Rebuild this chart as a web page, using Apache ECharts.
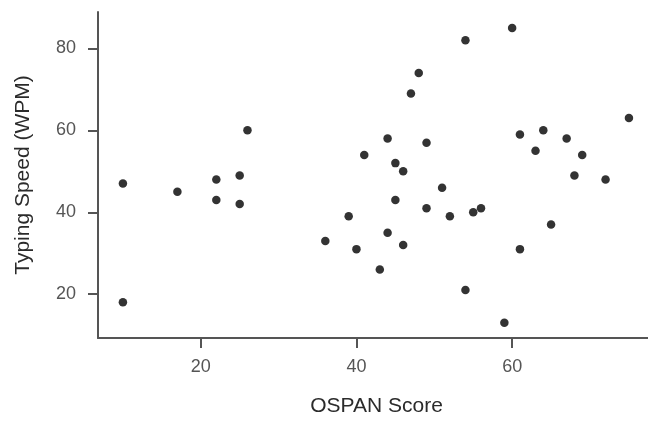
<!DOCTYPE html>
<html>
<head>
<meta charset="utf-8">
<script src="https://cdn.jsdelivr.net/npm/echarts@6/dist/echarts.min.js"></script>
<style>
  html, body { margin: 0; padding: 0; background: #fff; }
  #chart { width: 648px; height: 422px; }
</style>
</head>
<body>
<div id="chart"></div>
<script>
// OSPAN score vs typing speed
const ospanScores = [
  10, 10, 17, 22, 22, 25, 25, 26,
  36, 39, 40, 41, 43, 44, 44, 45, 45, 46, 46, 47, 48, 49, 49,
  51, 52, 54, 54, 55, 56, 59, 60, 61, 61, 63, 64, 65, 67, 68, 69, 72, 75
]
const typingWpm = [
  47, 18, 45, 48, 43, 49, 42, 60,
  33, 39, 31, 54, 26, 58, 35, 52, 43, 50, 32, 69, 74, 57, 41,
  46, 39, 82, 21, 40, 41, 13, 85, 59, 31, 55, 60, 37, 58, 49, 54, 48, 63
]
const xTicks = [20, 40, 60]
const yTicks = [20, 40, 60, 80]

const AXIS_COLOR = '#555555'
const LABEL_COLOR = '#555555'
const NAME_COLOR = '#2b2b2b'
const FONT = 'Liberation Sans, Arial, sans-serif'

const points = ospanScores.map((x, i) => [x, typingWpm[i]])

const chart = echarts.init(document.getElementById('chart'), null, { renderer: 'canvas' })

chart.setOption({
  animation: false,
  textStyle: { fontFamily: FONT },
  grid: {
    left: 98,
    right: 0,
    top: 12,
    bottom: 80,
    containLabel: false
  },
  xAxis: {
    type: 'value',
    min: 6.8,
    max: 77.45,
    name: 'OSPAN Score',
    nameLocation: 'middle',
    nameGap: 58,
    nameTextStyle: { color: NAME_COLOR, fontSize: 21, fontFamily: FONT, padding: [0, 0, 0, 7] },
    axisLine: { show: true, lineStyle: { color: AXIS_COLOR, width: 2 } },
    axisTick: {
      show: true,
      length: 10,
      customValues: xTicks,
      lineStyle: { color: AXIS_COLOR, width: 2 }
    },
    axisLabel: {
      color: LABEL_COLOR,
      fontSize: 18,
      fontFamily: FONT,
      margin: 20,
      customValues: xTicks
    },
    splitLine: { show: false }
  },
  yAxis: {
    type: 'value',
    min: 9.3,
    max: 88.9,
    name: 'Typing Speed (WPM)',
    nameLocation: 'middle',
    nameGap: 64,
    nameTextStyle: { color: NAME_COLOR, fontSize: 21, fontFamily: FONT },
    axisLine: { show: true, lineStyle: { color: AXIS_COLOR, width: 2 } },
    axisTick: {
      show: true,
      length: 10,
      customValues: yTicks,
      lineStyle: { color: AXIS_COLOR, width: 2 }
    },
    axisLabel: {
      color: LABEL_COLOR,
      fontSize: 18,
      fontFamily: FONT,
      margin: 22,
      customValues: yTicks
    },
    splitLine: { show: false }
  },
  series: [
    {
      type: 'scatter',
      data: points,
      symbol: 'circle',
      symbolSize: 8.5,
      itemStyle: { color: '#000000' }
    }
  ]
})
</script>
</body>
</html>
